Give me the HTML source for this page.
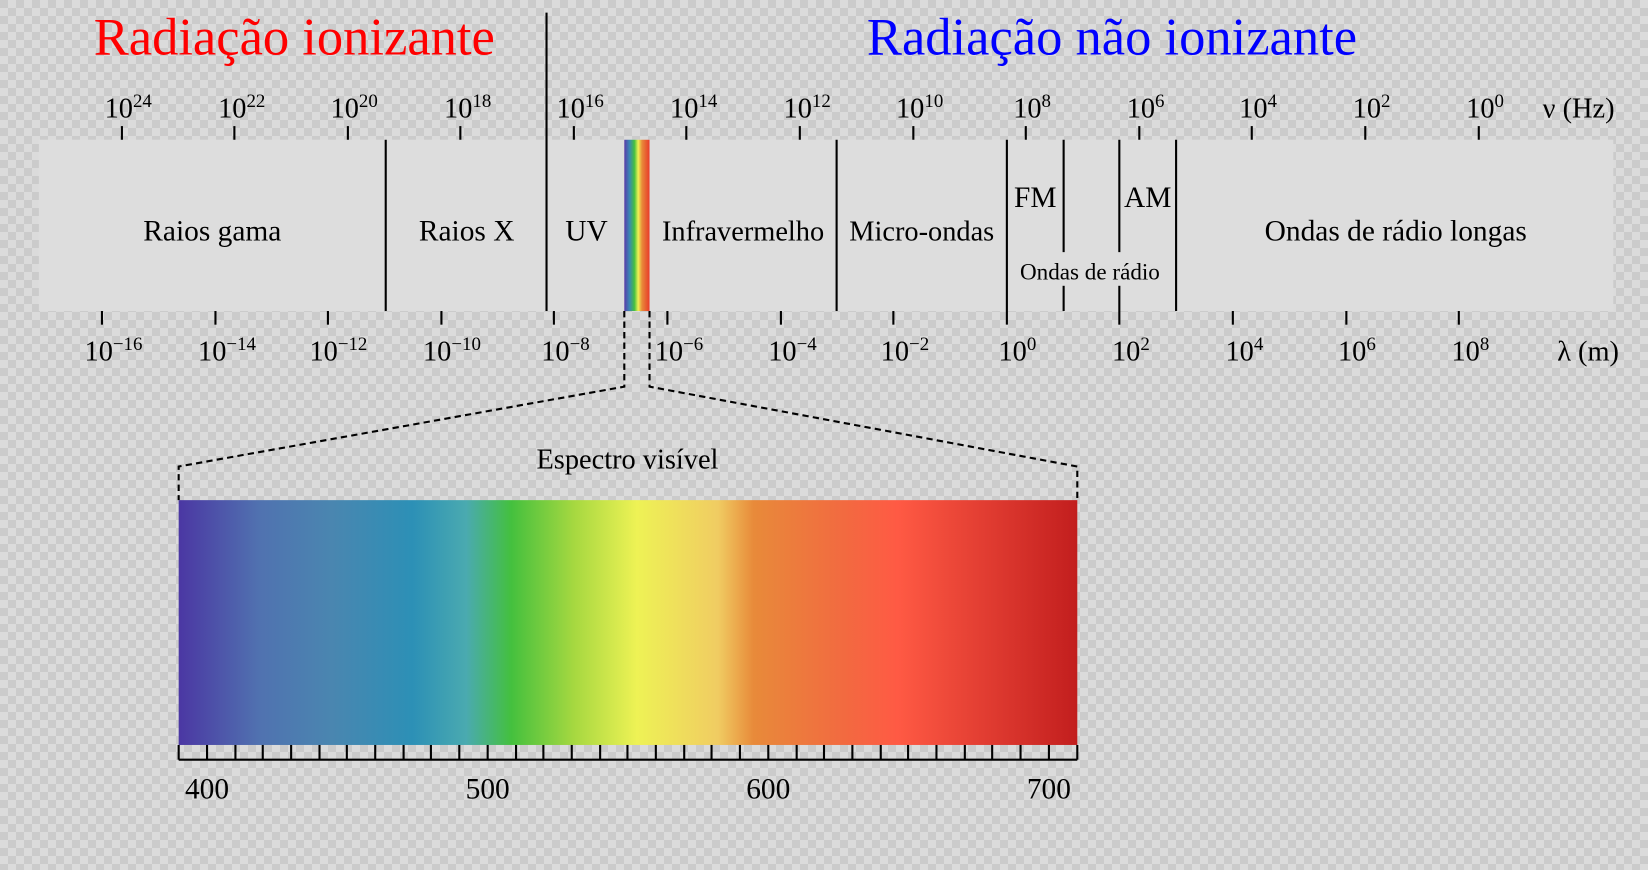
<!DOCTYPE html>
<html><head><meta charset="utf-8"><style>
html,body{margin:0;padding:0;width:1648px;height:870px;overflow:hidden}
body{background-color:#dbdbdb;background-image:linear-gradient(45deg,#cbcbcb 25%,transparent 25%,transparent 75%,#cbcbcb 75%),linear-gradient(45deg,#cbcbcb 25%,transparent 25%,transparent 75%,#cbcbcb 75%);background-size:16px 16px;background-position:8px 0,0 8px}
svg{position:absolute;left:0;top:0}
text{font-family:"Liberation Serif",serif}
</style></head><body>
<svg width="1648" height="870" viewBox="0 0 1568 828" preserveAspectRatio="none" xmlns="http://www.w3.org/2000/svg">
<defs>
<linearGradient id="vis" x1="0" x2="1" y1="0" y2="0">
<stop offset="0" stop-color="#4b37a3"/>
<stop offset="0.09" stop-color="#5072b0"/>
<stop offset="0.17" stop-color="#4a86b0"/>
<stop offset="0.26" stop-color="#2c90b6"/>
<stop offset="0.32" stop-color="#4aaab0"/>
<stop offset="0.37" stop-color="#44c03e"/>
<stop offset="0.44" stop-color="#a6d840"/>
<stop offset="0.51" stop-color="#eef255"/>
<stop offset="0.6" stop-color="#f0cc62"/>
<stop offset="0.64" stop-color="#e88a3a"/>
<stop offset="0.74" stop-color="#f26a40"/>
<stop offset="0.8" stop-color="#ff5a44"/>
<stop offset="1" stop-color="#c21e1e"/>
</linearGradient>
<linearGradient id="mini" x1="0" x2="1" y1="0" y2="0">
<stop offset="0" stop-color="#5a3aa8"/>
<stop offset="0.2" stop-color="#3a86b4"/>
<stop offset="0.4" stop-color="#44c040"/>
<stop offset="0.55" stop-color="#eef255"/>
<stop offset="0.7" stop-color="#e88a3a"/>
<stop offset="1" stop-color="#e83a2a"/>
</linearGradient>
</defs>
<text x="280" y="52" font-size="50" fill="#ff0000" text-anchor="middle">Radiação ionizante</text>
<text x="1058" y="52" font-size="50" fill="#0000ff" text-anchor="middle">Radiação não ionizante</text>
<rect x="37" y="133" width="1498" height="163" fill="#dddddd"/>
<rect x="594" y="133" width="24" height="163" fill="url(#mini)"/>
<g stroke="#000" stroke-width="2">
<line x1="367" y1="133" x2="367" y2="296"/>
<line x1="520" y1="12" x2="520" y2="296"/>
<line x1="796" y1="133" x2="796" y2="296"/>
<line x1="958" y1="133" x2="958" y2="309"/>
<line x1="1012" y1="133" x2="1012" y2="240"/>
<line x1="1012" y1="272" x2="1012" y2="296"/>
<line x1="1065" y1="133" x2="1065" y2="240"/>
<line x1="1065" y1="272" x2="1065" y2="309"/>
<line x1="1119" y1="133" x2="1119" y2="296"/>
<g>
<line x1="116" y1="120" x2="116" y2="133"/><line x1="223" y1="120" x2="223" y2="133"/><line x1="331" y1="120" x2="331" y2="133"/><line x1="438" y1="120" x2="438" y2="133"/><line x1="546" y1="120" x2="546" y2="133"/><line x1="653" y1="120" x2="653" y2="133"/><line x1="761" y1="120" x2="761" y2="133"/><line x1="869" y1="120" x2="869" y2="133"/><line x1="976" y1="120" x2="976" y2="133"/><line x1="1084" y1="120" x2="1084" y2="133"/><line x1="1191" y1="120" x2="1191" y2="133"/><line x1="1299" y1="120" x2="1299" y2="133"/><line x1="1407" y1="120" x2="1407" y2="133"/>
</g>
<g>
<line x1="97" y1="296" x2="97" y2="309"/><line x1="205" y1="296" x2="205" y2="309"/><line x1="312" y1="296" x2="312" y2="309"/><line x1="420" y1="296" x2="420" y2="309"/><line x1="527" y1="296" x2="527" y2="309"/><line x1="635" y1="296" x2="635" y2="309"/><line x1="743" y1="296" x2="743" y2="309"/><line x1="850" y1="296" x2="850" y2="309"/><line x1="1173" y1="296" x2="1173" y2="309"/><line x1="1281" y1="296" x2="1281" y2="309"/><line x1="1388" y1="296" x2="1388" y2="309"/>
</g>
</g>
<g font-size="27" text-anchor="middle">
<text x="122" y="112">10<tspan font-size="18" dy="-10">24</tspan></text>
<text x="230" y="112">10<tspan font-size="18" dy="-10">22</tspan></text>
<text x="337" y="112">10<tspan font-size="18" dy="-10">20</tspan></text>
<text x="445" y="112">10<tspan font-size="18" dy="-10">18</tspan></text>
<text x="552" y="112">10<tspan font-size="18" dy="-10">16</tspan></text>
<text x="660" y="112">10<tspan font-size="18" dy="-10">14</tspan></text>
<text x="768" y="112">10<tspan font-size="18" dy="-10">12</tspan></text>
<text x="875" y="112">10<tspan font-size="18" dy="-10">10</tspan></text>
<text x="982" y="112">10<tspan font-size="18" dy="-10">8</tspan></text>
<text x="1090" y="112">10<tspan font-size="18" dy="-10">6</tspan></text>
<text x="1197" y="112">10<tspan font-size="18" dy="-10">4</tspan></text>
<text x="1305" y="112">10<tspan font-size="18" dy="-10">2</tspan></text>
<text x="1413" y="112">10<tspan font-size="18" dy="-10">0</tspan></text>
<text x="1502" y="112">ν (Hz)</text>
<text x="108" y="343">10<tspan font-size="18" dy="-10">−16</tspan></text>
<text x="216" y="343">10<tspan font-size="18" dy="-10">−14</tspan></text>
<text x="322" y="343">10<tspan font-size="18" dy="-10">−12</tspan></text>
<text x="430" y="343">10<tspan font-size="18" dy="-10">−10</tspan></text>
<text x="538" y="343">10<tspan font-size="18" dy="-10">−8</tspan></text>
<text x="646" y="343">10<tspan font-size="18" dy="-10">−6</tspan></text>
<text x="754" y="343">10<tspan font-size="18" dy="-10">−4</tspan></text>
<text x="861" y="343">10<tspan font-size="18" dy="-10">−2</tspan></text>
<text x="968" y="343">10<tspan font-size="18" dy="-10">0</tspan></text>
<text x="1076" y="343">10<tspan font-size="18" dy="-10">2</tspan></text>
<text x="1184" y="343">10<tspan font-size="18" dy="-10">4</tspan></text>
<text x="1291" y="343">10<tspan font-size="18" dy="-10">6</tspan></text>
<text x="1399" y="343">10<tspan font-size="18" dy="-10">8</tspan></text>
<text x="1511" y="343">λ (m)</text>
</g>
<g font-size="28" text-anchor="middle">
<text x="202" y="229">Raios gama</text>
<text x="444" y="229">Raios X</text>
<text x="558" y="229">UV</text>
<text x="707" y="229" font-size="27">Infravermelho</text>
<text x="877" y="229" font-size="27">Micro-ondas</text>
<text x="985" y="197">FM</text>
<text x="1092" y="197">AM</text>
<text x="1328" y="229">Ondas de rádio longas</text>
<text x="1037" y="266" font-size="22">Ondas de rádio</text>
<text x="597" y="446" font-size="27">Espectro visível</text>
<text x="197" y="760">400</text>
<text x="464" y="760">500</text>
<text x="731" y="760">600</text>
<text x="998" y="760">700</text>
</g>
<g fill="none" stroke="#000" stroke-width="2" stroke-dasharray="6,4">
<polyline points="594,296 594,368 170,444 170,476"/>
<polyline points="618,296 618,368 1025,444 1025,476"/>
</g>
<rect x="170" y="476" width="855" height="233" fill="url(#vis)"/>
<g stroke="#000" stroke-width="2">
<line x1="170" y1="723" x2="1025" y2="723"/>
<line x1="170" y1="709" x2="170" y2="723"/><line x1="197" y1="709" x2="197" y2="723"/><line x1="224" y1="709" x2="224" y2="723"/><line x1="250" y1="709" x2="250" y2="723"/><line x1="277" y1="709" x2="277" y2="723"/><line x1="304" y1="709" x2="304" y2="723"/><line x1="330" y1="709" x2="330" y2="723"/><line x1="357" y1="709" x2="357" y2="723"/><line x1="384" y1="709" x2="384" y2="723"/><line x1="410" y1="709" x2="410" y2="723"/><line x1="437" y1="709" x2="437" y2="723"/><line x1="464" y1="709" x2="464" y2="723"/><line x1="491" y1="709" x2="491" y2="723"/><line x1="517" y1="709" x2="517" y2="723"/><line x1="544" y1="709" x2="544" y2="723"/><line x1="571" y1="709" x2="571" y2="723"/><line x1="597" y1="709" x2="597" y2="723"/><line x1="624" y1="709" x2="624" y2="723"/><line x1="651" y1="709" x2="651" y2="723"/><line x1="677" y1="709" x2="677" y2="723"/><line x1="704" y1="709" x2="704" y2="723"/><line x1="731" y1="709" x2="731" y2="723"/><line x1="758" y1="709" x2="758" y2="723"/><line x1="784" y1="709" x2="784" y2="723"/><line x1="811" y1="709" x2="811" y2="723"/><line x1="838" y1="709" x2="838" y2="723"/><line x1="864" y1="709" x2="864" y2="723"/><line x1="891" y1="709" x2="891" y2="723"/><line x1="918" y1="709" x2="918" y2="723"/><line x1="944" y1="709" x2="944" y2="723"/><line x1="971" y1="709" x2="971" y2="723"/><line x1="998" y1="709" x2="998" y2="723"/><line x1="1025" y1="709" x2="1025" y2="723"/>
</g>
</svg>
</body></html>
